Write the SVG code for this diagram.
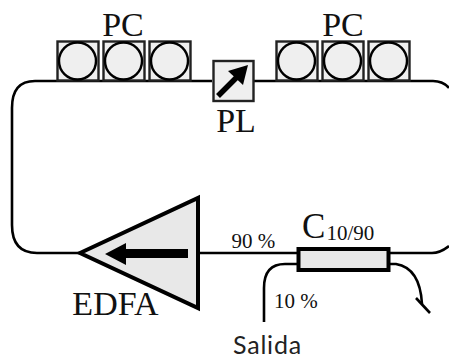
<svg xmlns="http://www.w3.org/2000/svg" width="449" height="360" viewBox="0 0 449 360">
<style>
.s{font-family:"Liberation Serif","Times New Roman",serif;fill:#111}
.f{fill:none;stroke:#000;stroke-width:2.6}
.b{fill:#efefef;stroke:#222;stroke-width:2.4}
.c{fill:#efefef;stroke:#000;stroke-width:2.4}
.l{font-size:34px}
.p{font-size:21px}
</style>
<rect width="449" height="360" fill="#fff"/>
<g id="connectors">
<path class="f" d="M57 81H35Q12 81 12 108V225Q12 253 37 253H80"/>
<path class="f" d="M199 253H298"/>
<path class="f" d="M389 253H432Q440 253 449 246"/>
<path class="f" d="M57 81H212M254 81H433Q443 81 449 88"/>
<path class="f" d="M298 264H285Q264 264 264 288V322"/>
<path class="f" d="M389 264H396Q420 268 422 304"/>
<path class="f" d="M416 298L430 313" stroke-width="2.2"/>
</g>
<g id="pc1"><rect class="b" x="57.500" y="41.500" width="41" height="39"/><circle class="c" cx="77.500" cy="61" r="18.500"/><rect class="b" x="103.500" y="41.500" width="41" height="39"/><circle class="c" cx="123.500" cy="61" r="18.500"/><rect class="b" x="149.500" y="41.500" width="41" height="39"/><circle class="c" cx="169.500" cy="61" r="18.500"/><text class="s l" x="123" y="36" text-anchor="middle">PC</text></g>
<g id="pc2"><rect class="b" x="276.500" y="41.500" width="41" height="39"/><circle class="c" cx="296.500" cy="61" r="18.500"/><rect class="b" x="322.500" y="41.500" width="41" height="39"/><circle class="c" cx="342.500" cy="61" r="18.500"/><rect class="b" x="368.500" y="41.500" width="41" height="39"/><circle class="c" cx="388.500" cy="61" r="18.500"/><text class="s l" x="343" y="36" text-anchor="middle">PC</text></g>
<g id="pl"><rect class="b" x="213.500" y="61" width="40" height="40"/><path d="M218 96L240 74" stroke="#000" stroke-width="5.500" fill="none"/><path d="M248 65L243 85L228 71Z" fill="#000"/><text class="s l" x="236" y="132" text-anchor="middle">PL</text></g>
<g id="edfa"><path d="M80 253L198 198V308Z" fill="#e8e8e8" stroke="#000" stroke-width="4"/><path d="M188 249H126V243L105 254L126 265V258H188Z" fill="#000"/><text class="s l" x="115.500" y="315" text-anchor="middle">EDFA</text></g>
<g id="coupler"><rect x="298.500" y="249" width="90" height="21" fill="#e8e8e8" stroke="#000" stroke-width="4"/><text class="s" x="302" y="238" font-size="35">C</text><text class="s" x="326.500" y="240" font-size="21">10/90</text></g>
<text class="s p" x="231.500" y="248">90 %</text>
<text class="s p" x="274" y="308">10 %</text>
<text x="233" y="354" font-family="Lato,'Noto Sans',sans-serif" font-size="25" letter-spacing="0.8" fill="#222">Salida</text>
</svg>
